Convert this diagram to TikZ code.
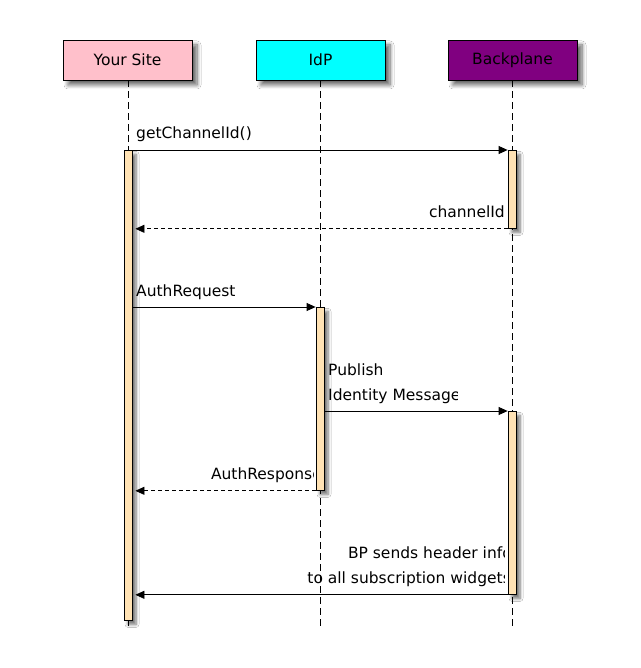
\documentclass[tikz,border=0pt]{standalone}
\usepackage{fontspec}
\setmainfont{DejaVu Sans}
\usetikzlibrary{arrows.meta,shadows.blur}
\definecolor{sitepink}{HTML}{FFC0CB}
\definecolor{idpcyan}{HTML}{00FFFF}
\definecolor{bppurple}{HTML}{800080}
\definecolor{barfill}{HTML}{FFE2B4}
\tikzset{
  actor/.style={draw=black, line width=0.9pt, minimum width=129pt, minimum height=40pt, inner sep=0pt,
    font=\fontsize{15.5pt}{17pt}\selectfont,
    blur shadow={shadow xshift=5pt, shadow yshift=-5pt, shadow blur radius=4pt, shadow blur steps=8, shadow opacity=60}},
  actbar/.style={draw=black, line width=0.8pt, fill=barfill, minimum width=8pt, inner sep=0pt,
    blur shadow={shadow xshift=4pt, shadow yshift=-4pt, shadow blur radius=3pt, shadow blur steps=6, shadow opacity=55}},
  lifeline/.style={draw=black, line width=0.8pt, dash pattern=on 7pt off 4pt},
  msg/.style={draw=black, line width=0.8pt, -{Triangle[length=9pt,width=8pt]}},
  reply/.style={msg, dash pattern=on 4pt off 3pt},
  lbl/.style={inner sep=0pt, font=\fontsize{15.5pt}{17pt}\selectfont}
}
\begin{document}
\begin{tikzpicture}[x=1pt,y=-1pt]
\useasboundingbox[fill=white] (0,0) rectangle (640,668);
% actors
\node[actor, fill=sitepink] (ys) at (127.5,60) {Your Site};
\node[actor, fill=idpcyan] (idp) at (320.5,60) {IdP};
\node[actor, fill=bppurple] (bp) at (512.5,60) {Backplane};
% lifeline ends
\coordinate (ysend) at (128,628);
\coordinate (idpend) at (320,628);
\coordinate (bpend) at (512,628);
\draw[lifeline] (ys.south -| ysend) -- (ysend);
\draw[lifeline] (idp.south -| idpend) -- (idpend);
\draw[lifeline] (bp.south -| bpend) -- (bpend);
% activation bars
\node[actbar, minimum height=470pt, anchor=north] (ysbar) at (128,150) {};
\node[actbar, minimum height=78pt, anchor=north] (bpbarA) at (512,150) {};
\node[actbar, minimum height=183pt, anchor=north] (idpbar) at (320,307) {};
\node[actbar, minimum height=183pt, anchor=north] (bpbarB) at (512,411) {};
% messages
\draw[msg] (ysbar.east |- bpbarA.north) -- (bpbarA.north west);
\draw[reply] (bpbarA.south west) -- ([xshift=3pt]ysbar.east |- bpbarA.south);
\draw[msg] (ysbar.east |- idpbar.north) -- (idpbar.north west);
\draw[msg] (idpbar.east |- bpbarB.north) -- (bpbarB.north west);
\draw[reply] (idpbar.south west) -- ([xshift=3pt]ysbar.east |- idpbar.south);
\draw[msg] (bpbarB.south west) -- ([xshift=3pt]ysbar.east |- bpbarB.south);
% labels
\node[lbl, anchor=base west] (l1) at (136,139) {getChannelId()};
\node[lbl, anchor=base east] (l2) at (505,217) {channelId};
\node[lbl, anchor=base west] (l3) at (136,296) {AuthRequest};
\begin{scope}
\clip (326,350) rectangle (457,410);
\node[lbl, anchor=base west] (l4) at (328,375) {Publish};
\node[lbl, anchor=base west] (l5) at (328,400) {Identity Message};
\end{scope}
\begin{scope}
\clip (150,455) rectangle (313.5,488);
\node[lbl, anchor=base east] (l6) at (322,479) {AuthResponse};
\end{scope}
\begin{scope}
\clip (280,535) rectangle (504,592);
\node[lbl, anchor=base east] (l7) at (512,558) {BP sends header info};
\node[lbl, anchor=base east] (l8) at (511,583) {to all subscription widgets};
\end{scope}
\end{tikzpicture}
\end{document}
